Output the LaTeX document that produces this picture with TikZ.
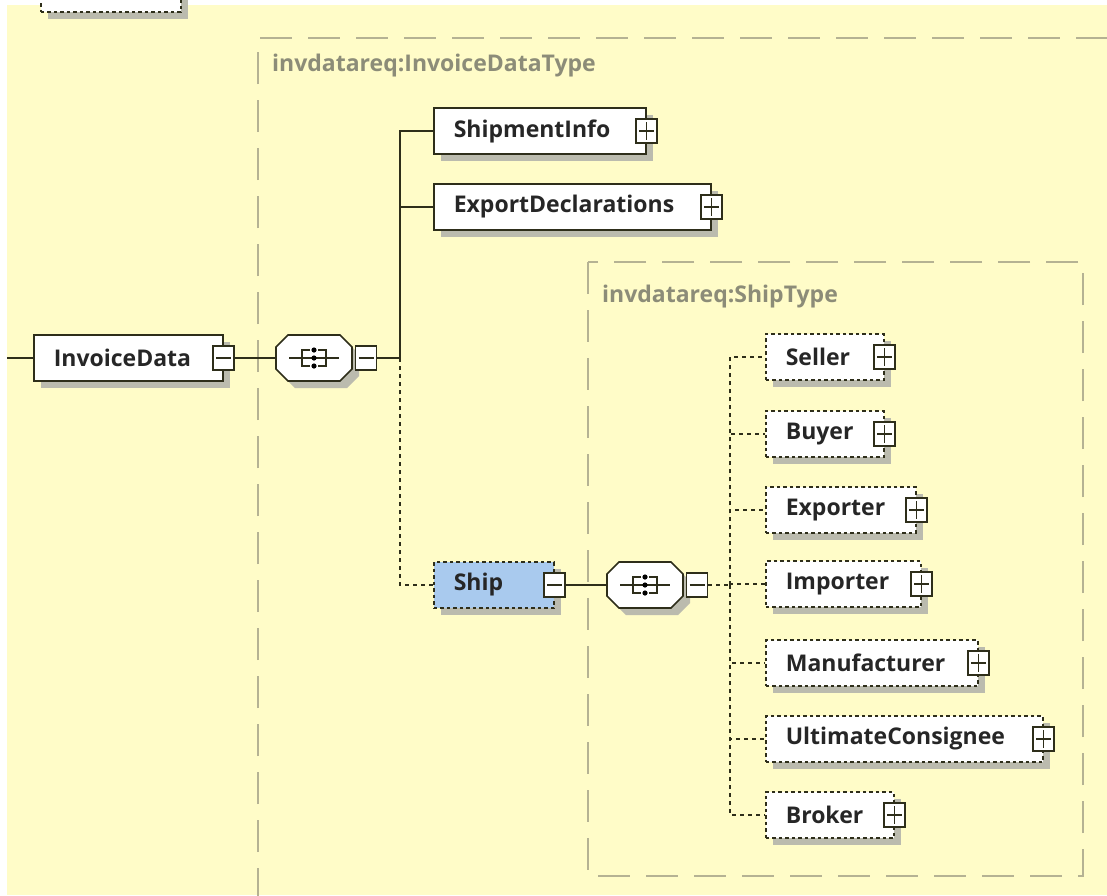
\documentclass[tikz,border=0pt]{standalone}
\usepackage{fontspec}
\setmainfont{Open Sans}
\usetikzlibrary{calc,shadows}
\definecolor{bg}{HTML}{FFFCC8}
\definecolor{linec}{HTML}{2E2E1A}
\definecolor{boxc}{HTML}{B5B293}
\definecolor{lblc}{HTML}{8C8C78}
\definecolor{shadc}{HTML}{BBBBAE}
\definecolor{shipc}{HTML}{A9CAEE}
\tikzset{
  elem/.style={draw=linec, line width=1.6, fill=white, minimum height=46,
    anchor=west, inner xsep=20, inner ysep=0, align=left, text width=#1,
    font=\bfseries\fontsize{23}{26}\selectfont, text=black!85,
    drop shadow={shadow xshift=7pt, shadow yshift=-7pt, opacity=1, fill=shadc}},
  optelem/.style={elem=#1, dash pattern=on 3.5pt off 3pt},
  conn/.style={draw=linec, line width=1.8},
  optconn/.style={conn, dash pattern=on 4pt off 4pt},
  typebox/.style={draw=boxc, line width=1.8, dash pattern=on 32pt off 16pt},
  lbl/.style={anchor=west, text=lblc, font=\bfseries\fontsize{23}{26}\selectfont, inner sep=0},
  iconbox/.style={draw=linec, fill=white, line width=1.4, minimum width=21, minimum height=24, inner sep=0},
  plusicon/.style={iconbox, path picture={
      \draw[linec, line width=1.3] ([xshift=3pt]path picture bounding box.west) -- ([xshift=-3pt]path picture bounding box.east);
      \draw[linec, line width=1.3] ([yshift=-3pt]path picture bounding box.north) -- ([yshift=3pt]path picture bounding box.south);}},
  minusicon/.style={iconbox, path picture={
      \draw[linec, line width=1.3] ([xshift=3pt]path picture bounding box.west) -- ([xshift=-3pt]path picture bounding box.east);}},
  seqnode/.style={minimum width=77, minimum height=47, inner sep=0},
}
\newcommand\seqdraw[1]{%
  \fill[shadc] ($(#1.center)+(-26+7,-23+7)$) -- ($(#1.center)+(26+7,-23+7)$) -- ($(#1.center)+(38+7,-11+7)$) -- ($(#1.center)+(38+7,11+7)$) -- ($(#1.center)+(26+7,23+7)$) -- ($(#1.center)+(-26+7,23+7)$) -- ($(#1.center)+(-38+7,11+7)$) -- ($(#1.center)+(-38+7,-11+7)$) -- cycle;
  \draw[linec, line width=1.6, fill=white] ($(#1.center)+(-26,-23)$) -- ($(#1.center)+(26,-23)$) -- ($(#1.center)+(38,-11)$) -- ($(#1.center)+(38,11)$) -- ($(#1.center)+(26,23)$) -- ($(#1.center)+(-26,23)$) -- ($(#1.center)+(-38,11)$) -- ($(#1.center)+(-38,-11)$) -- cycle;
  \draw[linec, line width=1.3] ($(#1.center)+(-25,0)$) -- ($(#1.center)+(25,0)$);
  \draw[linec, line width=1.4] ($(#1.center)+(-4,-8)$) -- ($(#1.center)+(-12,-8)$) -- ($(#1.center)+(-12,8)$) -- ($(#1.center)+(-4,8)$);
  \draw[linec, line width=1.4] ($(#1.center)+(4,-8)$) -- ($(#1.center)+(12,-8)$) -- ($(#1.center)+(12,8)$) -- ($(#1.center)+(4,8)$);
  \fill[black] ($(#1.center)+(0,-8)$) circle (2.6) ($(#1.center)+(0,0)$) circle (2.6) ($(#1.center)+(0,8)$) circle (2.6);
}
\begin{document}
\begin{tikzpicture}[x=1pt,y=-1pt]
\useasboundingbox (0,0) rectangle (1107,895);
\clip (0,0) rectangle (1107,895);
\fill[white] (0,0) rectangle (1107,895);
\fill[bg] (7,5) rectangle (1107,895);

% partial node at the top left
\node[optelem=100, minimum height=40, anchor=south west] (topnode) at (40,13) {};

% type boxes
\draw[typebox] (258,900) -- (258,38) -- (1120,38);
\node[lbl] (lblA) at (272,66) {invdatareq:InvoiceDataType};
\draw[typebox] (588,262) rectangle (1083,876);
\node[lbl] (lblB) at (602,297) {invdatareq:ShipType};

% elements
\node[elem=149] (InvoiceData) at (33,358) {InvoiceData};
\node[elem=172] (ShipmentInfo) at (433,131) {ShipmentInfo};
\node[elem=237] (ExportDeclarations) at (433,207) {ExportDeclarations};
\node[optelem=80, fill=shipc] (Ship) at (433,585) {Ship};

\node[optelem=78] (Seller) at (765,357) {Seller};
\node[optelem=78] (Buyer) at (765,434) {Buyer};
\node[optelem=110] (Exporter) at (765,510) {Exporter};
\node[optelem=115] (Importer) at (765,584) {Importer};
\node[optelem=172] (Manufacturer) at (765,663) {Manufacturer};
\node[optelem=237] (UltimateConsignee) at (765,739) {UltimateConsignee};
\node[optelem=88] (Broker) at (765,815) {Broker};

% compositors
\node[seqnode] (seqA) at (314,358) {};
\seqdraw{seqA}
\node[seqnode] (seqB) at (645,585) {};
\seqdraw{seqB}

% icons
\node[minusicon] (InvoiceData-x) at (InvoiceData.east) {};
\node[minusicon] (seqA-x) at (366,358) {};
\node[minusicon] (Ship-x) at (Ship.east) {};
\node[minusicon] (seqB-x) at (697,585) {};
\foreach \n in {ShipmentInfo,ExportDeclarations,Seller,Buyer,Exporter,Importer,Manufacturer,UltimateConsignee,Broker}
  \node[plusicon] (\n-x) at (\n.east) {};

% connectors
\coordinate (inL) at (7,358);
\coordinate (trunkA) at (400,358);
\coordinate (trunkB) at (730,585);
\draw[conn] (inL) -- (InvoiceData.west);
\draw[conn] (InvoiceData-x.east) -- (seqA.west);
\draw[conn] (seqA-x.east) -- (trunkA);
\draw[conn] (trunkA) |- (ShipmentInfo.west);
\draw[conn] (trunkA) |- (ExportDeclarations.west);
\draw[optconn] (trunkA) |- (Ship.west);
\draw[conn] (Ship-x.east) -- (seqB.west);
\draw[optconn] (seqB-x.east) -- (trunkB);
\foreach \n in {Seller,Buyer,Exporter,Importer,Manufacturer,UltimateConsignee,Broker}
  \draw[optconn] (trunkB) |- (\n.west);
\end{tikzpicture}
\end{document}
